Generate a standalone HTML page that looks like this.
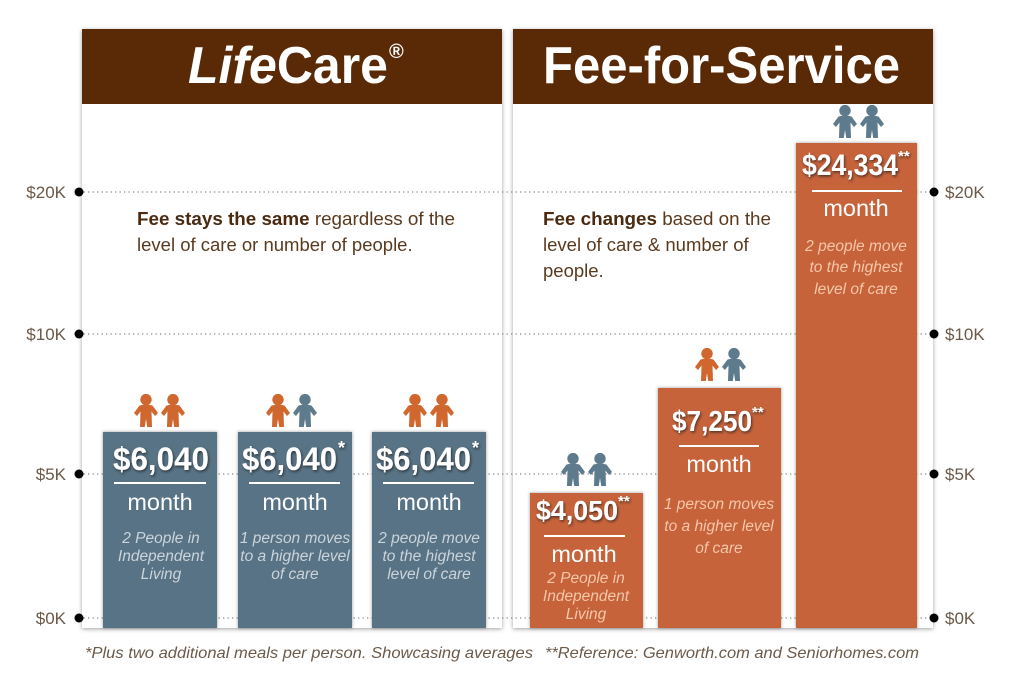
<!DOCTYPE html>
<html><head><meta charset="utf-8"><style>
html,body{margin:0;padding:0;background:#fff;}
svg{display:block;}
</style></head><body>
<svg width="1024" height="685" viewBox="0 0 1024 685" xmlns="http://www.w3.org/2000/svg" font-family="'Liberation Sans', sans-serif">
<defs>
  <filter id="psh" x="-5%" y="-5%" width="110%" height="110%">
    <feDropShadow dx="0" dy="1" stdDeviation="2.2" flood-color="#777" flood-opacity="0.7"/>
  </filter>
  <filter id="bsh" x="-10%" y="-10%" width="120%" height="120%">
    <feDropShadow dx="0" dy="0" stdDeviation="1.5" flood-color="#333" flood-opacity="0.5"/>
  </filter>
  <filter id="tsh" x="-10%" y="-20%" width="120%" height="140%">
    <feDropShadow dx="1" dy="1.5" stdDeviation="1.2" flood-color="#1a1a1a" flood-opacity="0.7"/>
  </filter>
  <symbol id="person" viewBox="0 0 24 33">
    <circle cx="12" cy="5.6" r="5.7"/>
    <path d="M5.5,11.5 Q12,9.8 18.5,11.5 L24,19 L21,22 L17.5,17.5 L18,33 L13.2,33 L12,25 L10.8,33 L6,33 L6.5,17.5 L3,22 L0,19 Z"/>
  </symbol>
</defs>

<rect width="1024" height="685" fill="#fff"/>

<!-- panels -->
<rect x="82" y="29" width="420" height="599" fill="#fff" filter="url(#psh)"/>
<rect x="513" y="29" width="420" height="599" fill="#fff" filter="url(#psh)"/>
<rect x="82" y="29" width="420" height="75" fill="#5a2905"/>
<rect x="513" y="29" width="420" height="75" fill="#5a2905"/>

<!-- header text -->
<text x="188" y="83" fill="#fff" font-size="52" font-weight="bold" textLength="200" lengthAdjust="spacingAndGlyphs"><tspan font-style="italic">Life</tspan>Care</text>
<text x="389" y="58" fill="#fff" font-size="20" font-weight="bold">®</text>
<text x="543" y="83" fill="#fff" font-size="52" font-weight="bold" textLength="357" lengthAdjust="spacingAndGlyphs">Fee-for-Service</text>

<!-- gridlines -->
<g stroke="#8a8a8a" stroke-width="1.3" stroke-dasharray="1.3 3.2">
  <line x1="79" y1="192" x2="934" y2="192"/>
  <line x1="79" y1="334" x2="934" y2="334"/>
  <line x1="79" y1="474" x2="934" y2="474"/>
  <line x1="79" y1="618" x2="934" y2="618"/>
</g>
<g fill="#000">
  <circle cx="79" cy="192" r="4.5"/><circle cx="79" cy="334" r="4.5"/><circle cx="79" cy="474" r="4.5"/><circle cx="79" cy="618" r="4.5"/>
  <circle cx="934" cy="192" r="4.5"/><circle cx="934" cy="334" r="4.5"/><circle cx="934" cy="474" r="4.5"/><circle cx="934" cy="618" r="4.5"/>
</g>
<g fill="#6a5848" font-size="17">
  <text x="66" y="198" text-anchor="end">$20K</text>
  <text x="66" y="340" text-anchor="end">$10K</text>
  <text x="66" y="480" text-anchor="end">$5K</text>
  <text x="66" y="624" text-anchor="end">$0K</text>
  <text x="945" y="198">$20K</text>
  <text x="945" y="340">$10K</text>
  <text x="945" y="480">$5K</text>
  <text x="945" y="624">$0K</text>
</g>

<!-- body text -->
<g fill="#5a3a1e" font-size="18.5">
  <text x="137" y="225" textLength="318" lengthAdjust="spacingAndGlyphs"><tspan font-weight="bold" fill="#4a2a10">Fee stays the same</tspan> regardless of the</text>
  <text x="137" y="251">level of care or number of people.</text>
  <text x="543" y="225" textLength="228" lengthAdjust="spacingAndGlyphs"><tspan font-weight="bold" fill="#4a2a10">Fee changes</tspan> based on the</text>
  <text x="543" y="251">level of care &amp; number of</text>
  <text x="543" y="277">people.</text>
</g>

<!-- bars -->
<g filter="url(#bsh)">
  <rect x="103" y="432" width="114" height="196" fill="#587385"/>
  <rect x="238" y="432" width="114" height="196" fill="#587385"/>
  <rect x="372" y="432" width="114" height="196" fill="#587385"/>
  <rect x="530" y="493" width="113" height="135" fill="#c6633a"/>
  <rect x="658" y="388" width="123" height="240" fill="#c6633a"/>
  <rect x="796" y="143" width="121" height="485" fill="#c6633a"/>
</g>

<!-- people -->
<g>
  <use href="#person" x="134" y="394" width="24" height="33" fill="#d0672f"/>
  <use href="#person" x="161" y="394" width="24" height="33" fill="#d0672f"/>
  <use href="#person" x="266" y="394" width="24" height="33" fill="#d0672f"/>
  <use href="#person" x="293" y="394" width="24" height="33" fill="#5e7b8d"/>
  <use href="#person" x="403" y="394" width="24" height="33" fill="#d0672f"/>
  <use href="#person" x="430" y="394" width="24" height="33" fill="#d0672f"/>
  <use href="#person" x="561" y="453" width="24" height="33" fill="#5e7b8d"/>
  <use href="#person" x="588" y="453" width="24" height="33" fill="#5e7b8d"/>
  <use href="#person" x="695" y="348" width="24" height="33" fill="#d0672f"/>
  <use href="#person" x="722" y="348" width="24" height="33" fill="#5e7b8d"/>
  <use href="#person" x="833" y="105" width="24" height="33" fill="#5e7b8d"/>
  <use href="#person" x="860" y="105" width="24" height="33" fill="#5e7b8d"/>
</g>

<!-- bar values -->
<g fill="#fff" font-weight="bold" filter="url(#tsh)">
  <text x="113" y="470" font-size="32" textLength="96" lengthAdjust="spacingAndGlyphs">$6,040</text>
  <text x="242" y="470" font-size="32" textLength="95" lengthAdjust="spacingAndGlyphs">$6,040</text>
  <text x="338" y="454" font-size="18">*</text>
  <text x="376" y="470" font-size="32" textLength="95" lengthAdjust="spacingAndGlyphs">$6,040</text>
  <text x="472" y="454" font-size="18">*</text>
  <text x="536" y="520" font-size="28" textLength="82" lengthAdjust="spacingAndGlyphs">$4,050</text>
  <text x="618" y="506" font-size="15">**</text>
  <text x="672" y="431" font-size="29" textLength="80" lengthAdjust="spacingAndGlyphs">$7,250</text>
  <text x="752" y="417" font-size="15">**</text>
  <text x="802" y="175" font-size="30" textLength="96" lengthAdjust="spacingAndGlyphs">$24,334</text>
  <text x="898" y="161" font-size="15">**</text>
</g>

<!-- separators -->
<g stroke="#fff" stroke-width="2">
  <line x1="114" y1="483" x2="206" y2="483"/>
  <line x1="249" y1="483" x2="340" y2="483"/>
  <line x1="383" y1="483" x2="474" y2="483"/>
  <line x1="544" y1="536" x2="625" y2="536"/>
  <line x1="679" y1="446" x2="759" y2="446"/>
  <line x1="812" y1="191" x2="902" y2="191"/>
</g>

<!-- month -->
<g fill="#fff" font-size="23.5" text-anchor="middle">
  <text x="160" y="510">month</text>
  <text x="295" y="510">month</text>
  <text x="429" y="510">month</text>
  <text x="584" y="562">month</text>
  <text x="719" y="472">month</text>
  <text x="856" y="216">month</text>
</g>

<!-- descriptions -->
<g fill="#cbd4da" font-size="15.5" font-style="italic" text-anchor="middle">
  <text x="161" y="543">2 People in</text>
  <text x="161" y="561">Independent</text>
  <text x="161" y="579">Living</text>
  <text x="295" y="543">1 person moves</text>
  <text x="295" y="561">to a higher level</text>
  <text x="295" y="579">of care</text>
  <text x="429" y="543">2 people move</text>
  <text x="429" y="561">to the highest</text>
  <text x="429" y="579">level of care</text>
</g>
<g fill="#f5c6a8" font-size="15.5" font-style="italic" text-anchor="middle">
  <text x="586" y="583">2 People in</text>
  <text x="586" y="601">Independent</text>
  <text x="586" y="619">Living</text>
  <text x="719" y="509">1 person moves</text>
  <text x="719" y="531">to a higher level</text>
  <text x="719" y="553">of care</text>
  <text x="856" y="251">2 people move</text>
  <text x="856" y="272">to the highest</text>
  <text x="856" y="294">level of care</text>
</g>

<!-- footer -->
<g fill="#6b5a4a" font-size="16" font-style="italic">
  <text x="85" y="658" textLength="448" lengthAdjust="spacingAndGlyphs">*Plus two additional meals per person.  Showcasing averages</text>
  <text x="545" y="658" textLength="374" lengthAdjust="spacingAndGlyphs">**Reference: Genworth.com and Seniorhomes.com</text>
</g>
</svg>
</body></html>
